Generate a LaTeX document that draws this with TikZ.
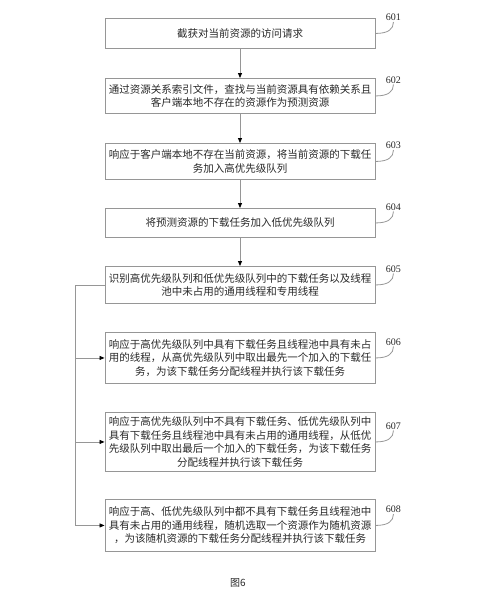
\documentclass[tikz,border=0pt]{standalone}
\usepackage{fontspec}
\setmainfont{Liberation Serif}
\newfontfamily\cjk{Noto Sans CJK SC}
\usetikzlibrary{arrows.meta}
\tikzstyle{chart} = [x = 1pt, y = -1pt]
\definecolor{boxColor}{RGB}{150,150,150}
\definecolor{textColor}{RGB}{40,40,40}
\tikzstyle{stepBox} = [draw=boxColor, line width=.9pt, text width=263pt, inner xsep=3.5pt, inner ysep=0pt, align=center, anchor=north, text=textColor, font=\cjk\fontsize{10.5}{13.5}\selectfont]
\tikzstyle{flowLine} = [draw=boxColor, line width=.8pt]
\tikzstyle{flowArrow} = [flowLine, -{Triangle[length=5pt, width=4pt, color=black]}]
\tikzstyle{labelText} = [font=\fontsize{10}{10}\selectfont, text=textColor, inner sep=1pt]
\newcommand{\flowStep}[4]{\node [stepBox, minimum height=#3] (s#1) at (240,#2) {#4};}
\newcommand{\stepLabel}[1]{
  \node [labelText] (l#1) at ([shift={(18,-16)}]s#1.east) {#1};
  \draw [flowLine] (s#1.east) .. controls +(13,0) and +(0,7) .. (l#1.south);
}

\begin{document}
\begin{tikzpicture}[chart]
    \useasboundingbox (0,0) rectangle (477,600);
    \flowStep{601}{18}{30pt}{截获对当前资源的访问请求}
    \flowStep{602}{78}{35pt}{通过资源关系索引文件，查找与当前资源具有依赖关系且\\客户端本地不存在的资源作为预测资源}
    \flowStep{603}{143}{36pt}{响应于客户端本地不存在当前资源，将当前资源的下载任\\务加入高优先级队列}
    \flowStep{604}{208}{29pt}{将预测资源的下载任务加入低优先级队列}
    \flowStep{605}{266}{37pt}{识别高优先级队列和低优先级队列中的下载任务以及线程\\池中未占用的通用线程和专用线程}
    \flowStep{606}{332}{51pt}{响应于高优先级队列中具有下载任务且线程池中具有未占\\用的线程，从高优先级队列中取出最先一个加入的下载任\\务，为该下载任务分配线程并执行该下载任务}
    \flowStep{607}{412}{59pt}{响应于高优先级队列中不具有下载任务、低优先级队列中\\具有下载任务且线程池中具有未占用的通用线程，从低优\\先级队列中取出最后一个加入的下载任务，为该下载任务\\分配线程并执行该下载任务}
    \flowStep{608}{499}{52pt}{响应于高、低优先级队列中都不具有下载任务且线程池中\\具有未占用的通用线程，随机选取一个资源作为随机资源\\，为该随机资源的下载任务分配线程并执行该下载任务}
    % leader labels
    \foreach \step in {601,...,608} {
      \stepLabel{\step}
    }
    % main flow
    \foreach \from/\to in {601/602,602/603,603/604,604/605} {
      \draw [flowArrow] (s\from.south) -- (s\to.north);
    }
    % branches
    \draw [flowArrow] (s605.west) -- ++(-29,0) coordinate (busTop) |- (s608.west);
    \draw [flowArrow] (busTop |- s606.west) -- (s606.west);
    \draw [flowArrow] (busTop |- s607.west) -- (s607.west);
    \node [font=\cjk\fontsize{10}{10}\selectfont, text=textColor] (caption) at (238,583) {图6};
\end{tikzpicture}
\end{document}
